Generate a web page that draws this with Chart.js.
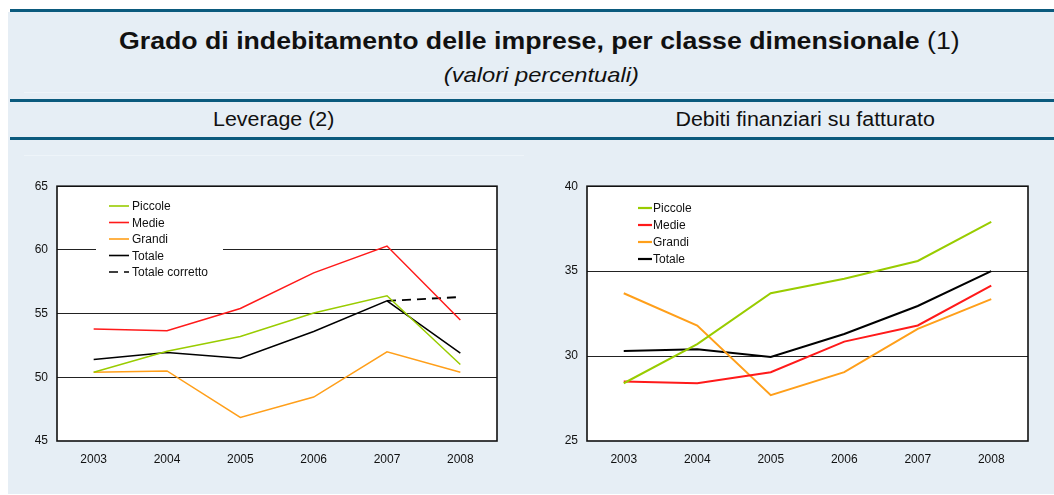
<!DOCTYPE html>
<html>
<head>
<meta charset="utf-8">
<script src="https://cdn.jsdelivr.net/npm/chart.js@4.4.1/dist/chart.umd.min.js"></script>
<style>
  html, body { margin:0; padding:0; background:#fff; }
  body { width:1054px; height:495px; position:relative; overflow:hidden; font-family:"Liberation Sans", Arial, sans-serif; }
  .panel { position:absolute; left:8px; top:12px; width:1046px; height:482px; background:#e6eef5; }
  .bar { position:absolute; left:10px; width:1044px; height:3px; background:#0b5a7d; }
  .faint { position:absolute; height:1px; background:#eef4f9; }
  .txt { position:absolute; white-space:nowrap; color:#111; text-align:center; }
  .txt span { display:inline-block; }
  .title { top:28px; left:12px; width:1054px; font-size:23px; }
  .title span { transform:scaleX(1.16); }
  .title b { font-weight:bold; }
  .sub { top:63px; left:14px; width:1054px; font-size:21px; font-style:italic; }
  .sub span { transform:scaleX(1.13); }
  .ptitle { top:108px; font-size:20px; }
  .ptitle span { transform:scaleX(1.07); }
  canvas { position:absolute; }
</style>
</head>
<body>
<div class="panel"></div>
<div class="bar" style="top:9px"></div>
<div class="bar" style="top:99px"></div>
<div class="bar" style="top:137px"></div>
<div class="faint" style="top:92px; left:24px; width:1030px"></div>
<div class="faint" style="top:155px; left:24px; width:500px"></div>

<div class="txt title"><span><b>Grado di indebitamento delle imprese, per classe dimensionale</b> (1)</span></div>
<div class="txt sub"><span>(valori percentuali)</span></div>
<div class="txt ptitle" style="left:24px; width:500px"><span>Leverage (2)</span></div>
<div class="txt ptitle" style="left:557px; width:497px"><span>Debiti finanziari su fatturato</span></div>

<canvas id="chartLev" width="520" height="300" style="left:0; top:170px"></canvas>
<canvas id="chartDeb" width="534" height="300" style="left:520px; top:170px"></canvas>

<script>
const years = ["2003", "2004", "2005", "2006", "2007", "2008"];

// Leverage (2)
const levPiccole = [50.4, 52.05, 53.2, 55.05, 56.4, 51.0];
const levMedie   = [53.8, 53.65, 55.4, 58.2, 60.3, 54.5];
const levGrandi  = [50.4, 50.5, 46.85, 48.45, 52.0, 50.4];
const levTotale  = [51.4, 51.95, 51.5, 53.6, 56.0, 51.9];
const levCorretto = [null, null, null, null, 56.0, 56.3];

// Debiti finanziari su fatturato
const debPiccole = [28.4, 30.7, 33.7, 34.55, 35.6, 37.9];
const debMedie   = [28.5, 28.4, 29.05, 30.85, 31.8, 34.15];
const debGrandi  = [33.7, 31.8, 27.7, 29.05, 31.6, 33.35];
const debTotale  = [30.3, 30.4, 29.95, 31.3, 32.95, 35.0];

const levLabels = ["Piccole", "Medie", "Grandi", "Totale", "Totale corretto"];
const debLabels = ["Piccole", "Medie", "Grandi", "Totale"];

const GREEN = "#99cc00", RED = "#ff1a1a", ORANGE = "#ff9f1a", BLACK = "#000000";
const FONT = "Liberation Sans, Arial, sans-serif";

// white plot area, box border and in-plot legend
function boxPlugin(legend) {
  return {
    id: "box",
    beforeDraw(chart) {
      const a = chart.chartArea, ctx = chart.ctx;
      ctx.save();
      ctx.fillStyle = "#fff";
      ctx.fillRect(a.left, a.top, a.right - a.left, a.bottom - a.top);
      ctx.restore();
    },
    beforeDatasetsDraw(chart) {
      if (!legend.box) return;
      const ctx = chart.ctx, b = legend.box;
      ctx.save();
      ctx.fillStyle = "#fff";
      ctx.fillRect(b[0], b[1], b[2], b[3]);
      ctx.restore();
    },
    afterDraw(chart) {
      const a = chart.chartArea, ctx = chart.ctx;
      ctx.save();
      ctx.strokeStyle = "#111";
      ctx.lineWidth = 1.6;
      ctx.strokeRect(a.left, a.top, a.right - a.left, a.bottom - a.top);
      // legend
      ctx.font = "12px " + FONT;
      ctx.textBaseline = "middle";
      ctx.fillStyle = "#111";
      chart.data.datasets.forEach((ds, i) => {
        const y = legend.y0 + i * legend.dy;
        ctx.strokeStyle = ds.borderColor;
        ctx.lineWidth = legend.lw;
        ctx.setLineDash(ds.borderDash || []);
        ctx.beginPath();
        ctx.moveTo(legend.x0, y);
        ctx.lineTo(legend.x1, y);
        ctx.stroke();
        ctx.setLineDash([]);
        ctx.fillText(ds.label, legend.tx, y + 1);
      });
      ctx.restore();
    }
  };
}

function makeChart(id, datasets, min, max, yWidth, pad, legend, lw) {
  return new Chart(document.getElementById(id), {
    type: "line",
    data: {
      labels: years,
      datasets: datasets.map(d => ({
        label: d.label, data: d.data, borderColor: d.color, borderWidth: d.width || lw,
        borderDash: d.dash, pointRadius: 0, fill: false, tension: 0
      }))
    },
    options: {
      responsive: false,
      animation: false,
      events: [],
      layout: { padding: pad },
      plugins: { legend: { display: false }, tooltip: { enabled: false } },
      scales: {
        x: {
          offset: true,
          grid: { display: false, drawTicks: false },
          border: { display: false },
          ticks: { color: "#111", font: { family: FONT, size: 12 }, padding: 11, maxRotation: 0 },
          afterFit(s) { s.height = 29; }
        },
        y: {
          min: min, max: max,
          grid: {
            drawTicks: false,
            color: ctx => (ctx.tick.value === min || ctx.tick.value === max) ? "rgba(0,0,0,0)" : "#222",
            lineWidth: 1
          },
          border: { display: false },
          ticks: { stepSize: 5, color: "#111", font: { family: FONT, size: 12 }, padding: 9 },
          afterFit(s) { s.width = yWidth; }
        }
      }
    },
    plugins: [boxPlugin(legend)]
  });
}

makeChart("chartLev", [
  { label: levLabels[0], data: levPiccole, color: GREEN },
  { label: levLabels[1], data: levMedie, color: RED },
  { label: levLabels[2], data: levGrandi, color: ORANGE },
  { label: levLabels[3], data: levTotale, color: BLACK },
  { label: levLabels[4], data: levCorretto, color: BLACK, dash: [9, 6], width: 1.8 }
], 45, 65, 57, { top: 13, right: 23, left: 0, bottom: 0 },
  { x0: 109, x1: 129, tx: 132, y0: 36, dy: 16.5, lw: 1.6, box: [96, 26, 127, 86] }, 1.5);

makeChart("chartDeb", [
  { label: debLabels[0], data: debPiccole, color: GREEN },
  { label: debLabels[1], data: debMedie, color: RED },
  { label: debLabels[2], data: debGrandi, color: ORANGE },
  { label: debLabels[3], data: debTotale, color: BLACK }
], 25, 40, 67, { top: 13, right: 26, left: 0, bottom: 0 },
  { x0: 118, x1: 132, tx: 133, y0: 38, dy: 17, lw: 2.2, box: null }, 2);
</script>
</body>
</html>
